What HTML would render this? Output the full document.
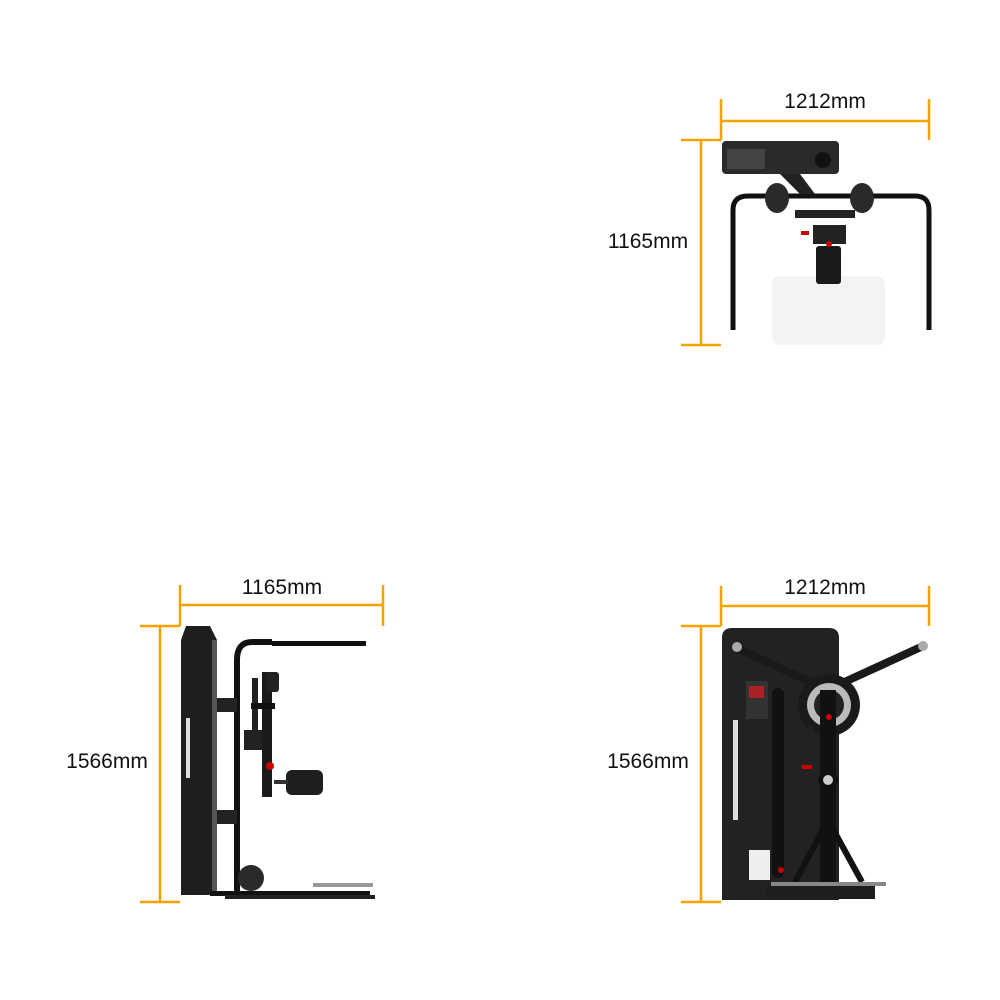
<!DOCTYPE html>
<html><head><meta charset="utf-8"><style>
html,body{margin:0;padding:0;background:#fff}
svg{display:block}
text{font-family:"Liberation Sans",sans-serif;font-size:21px;fill:#111}
</style></head><body>
<svg width="1000" height="1000" viewBox="0 0 1000 1000">
<g stroke="#F5A300" stroke-width="2.5" fill="none">
<line x1="721" y1="121" x2="929" y2="121"/><line x1="721" y1="99" x2="721" y2="140"/><line x1="929" y1="99" x2="929" y2="140"/>
<line x1="701" y1="140" x2="701" y2="345"/><line x1="681" y1="140" x2="721" y2="140"/><line x1="681" y1="345" x2="721" y2="345"/>
<line x1="180" y1="605" x2="383" y2="605"/><line x1="180" y1="585" x2="180" y2="626"/><line x1="383" y1="585" x2="383" y2="626"/>
<line x1="160" y1="626" x2="160" y2="902"/><line x1="140" y1="626" x2="180" y2="626"/><line x1="140" y1="902" x2="180" y2="902"/>
<line x1="721" y1="606" x2="929" y2="606"/><line x1="721" y1="586" x2="721" y2="626"/><line x1="929" y1="586" x2="929" y2="626"/>
<line x1="701" y1="626" x2="701" y2="902"/><line x1="681" y1="626" x2="721" y2="626"/><line x1="681" y1="902" x2="721" y2="902"/>
</g>
<text x="825" y="108" text-anchor="middle">1212mm</text>
<text x="648" y="248" text-anchor="middle">1165mm</text>
<text x="282" y="594" text-anchor="middle">1165mm</text>
<text x="107" y="768" text-anchor="middle">1566mm</text>
<text x="825" y="594" text-anchor="middle">1212mm</text>
<text x="648" y="768" text-anchor="middle">1566mm</text>

<rect x="772" y="276" width="113" height="69" rx="8" fill="#f3f3f3"/>
<path d="M733 330 V210 Q733 196 748 196 H915 Q929 196 929 210 V330" stroke="#111" stroke-width="5" fill="none"/>
<rect x="722" y="141" width="117" height="33" rx="4" fill="#2a2a2a"/>
<rect x="727" y="149" width="38" height="20" fill="#444"/>
<circle cx="823" cy="160" r="8" fill="#111"/>
<path d="M780 174 L800 194 L815 194 L800 174Z" fill="#222"/>
<ellipse cx="777" cy="198" rx="12" ry="15" fill="#2a2a2a"/>
<ellipse cx="862" cy="198" rx="12" ry="15" fill="#2a2a2a"/>
<rect x="795" y="210" width="60" height="8" fill="#222"/>
<rect x="813" y="225" width="33" height="19" fill="#222"/>
<rect x="816" y="246" width="25" height="38" rx="3" fill="#1a1a1a"/>
<circle cx="829" cy="244" r="3" fill="#c00"/>
<rect x="801" y="231" width="8" height="4" fill="#c00"/>

<path d="M186 626 H210 L217 640 V895 H181 V640Z" fill="#1e1e1e"/>
<rect x="212" y="640" width="5" height="255" fill="#555"/>
<rect x="186" y="718" width="4" height="60" fill="#ddd"/>
<path d="M237 895 V660 Q237 642 252 642 H272" stroke="#111" stroke-width="6" fill="none"/>
<rect x="272" y="641" width="94" height="5" fill="#111"/>
<rect x="217" y="698" width="20" height="14" fill="#222"/>
<rect x="217" y="810" width="20" height="14" fill="#222"/>
<rect x="244" y="730" width="20" height="20" fill="#222"/>
<rect x="262" y="672" width="10" height="125" fill="#1a1a1a"/>
<rect x="266" y="672" width="13" height="20" rx="3" fill="#222"/>
<rect x="252" y="678" width="6" height="60" fill="#222"/>
<rect x="251" y="703" width="24" height="6" fill="#111"/>
<rect x="286" y="770" width="37" height="25" rx="6" fill="#1e1e1e"/>
<rect x="274" y="780" width="14" height="4" fill="#333"/>
<circle cx="270" cy="766" r="4" fill="#c00"/>
<circle cx="251" cy="878" r="13" fill="#2a2a2a"/>
<rect x="210" y="891" width="160" height="5" fill="#111"/>
<rect x="313" y="883" width="60" height="4" fill="#999"/>
<rect x="225" y="895" width="150" height="4" fill="#222"/>

<path d="M722 638 Q722 628 732 628 H829 Q839 628 839 638 V900 H722Z" fill="#222"/>
<rect x="733" y="720" width="5" height="100" fill="#ddd"/>
<rect x="772" y="688" width="12" height="190" rx="6" fill="#111"/>
<rect x="746" y="681" width="22" height="38" fill="#333"/>
<rect x="749" y="686" width="15" height="12" fill="#a22"/>
<rect x="749" y="850" width="21" height="30" fill="#eee"/>
<path d="M737 648 L827 690 L921 647" stroke="#1a1a1a" stroke-width="8" fill="none"/>
<circle cx="737" cy="647" r="5" fill="#aaa"/>
<circle cx="923" cy="646" r="5" fill="#aaa"/>
<circle cx="829" cy="705" r="31" fill="#1a1a1a"/>
<circle cx="829" cy="705" r="22" fill="#bbb"/>
<circle cx="829" cy="705" r="15" fill="#222"/>
<path d="M796 735 L812 725 L818 742 L800 745Z" fill="#222"/>
<rect x="820" y="690" width="16" height="200" fill="#111"/>
<circle cx="828" cy="780" r="10" fill="#111"/><circle cx="828" cy="780" r="5" fill="#ccc"/>
<circle cx="829" cy="717" r="3" fill="#c00"/>
<rect x="802" y="765" width="10" height="4" fill="#c00"/>
<path d="M828 820 L795 882 M828 820 L862 882" stroke="#111" stroke-width="6" fill="none"/>
<rect x="771" y="882" width="115" height="4" fill="#888"/>
<rect x="765" y="886" width="110" height="13" fill="#1e1e1e"/>
<circle cx="781" cy="870" r="3" fill="#c00"/>
</svg>
</body></html>
